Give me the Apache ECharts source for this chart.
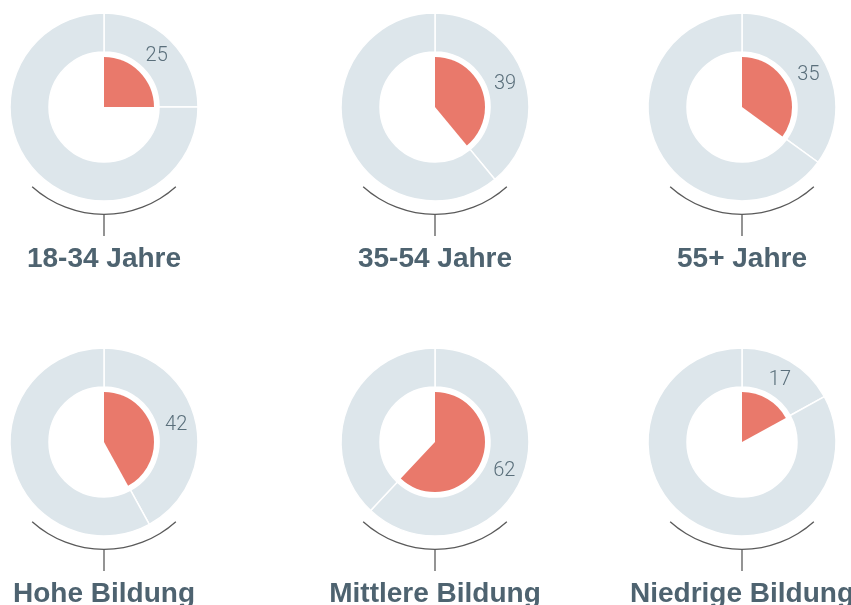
<!DOCTYPE html>
<html>
<head>
<meta charset="utf-8">
<script src="https://cdn.jsdelivr.net/npm/echarts@6/dist/echarts.min.js"></script>
<style>
  html, body { margin: 0; padding: 0; background: #ffffff; }
  #chart { width: 851px; height: 605px; }
</style>
</head>
<body>
<div id="chart"></div>
<script>
// Share of respondents per group (percent)
const groups = ['18-34 Jahre', '35-54 Jahre', '55+ Jahre', 'Hohe Bildung', 'Mittlere Bildung', 'Niedrige Bildung'];
const shares = [25, 39, 35, 42, 62, 17];

// Layout of the 3 x 2 grid of small donuts
const colX = [104, 435, 742];
const rowY = [107, 442];
const R_OUTER = 94, R_INNER = 55, R_SLICE = 50, R_ARC = 108;

const RING = '#dde6eb';
const RED = '#e9796b';
const TEXT = '#4e6370';
const LABEL = '#5a6f7b';
const ARC = '#5a5a5a';

const series = [];
const titles = [];
const graphics = [];

groups.forEach((name, i) => {
  const cx = colX[i % 3];
  const cy = rowY[Math.floor(i / 3)];
  const v = shares[i];

  // outer grey ring split at the value
  series.push({
    type: 'pie',
    center: [cx, cy],
    radius: [R_INNER, R_OUTER],
    startAngle: 90,
    clockwise: true,
    silent: true,
    animation: false,
    itemStyle: { color: RING, borderColor: '#ffffff', borderWidth: 1.5 },
    label: { show: false },
    labelLine: { show: false },
    data: [{ value: v }, { value: 100 - v }]
  });

  // transparent ring carrying the value label in the middle of the value segment
  series.push({
    type: 'pie',
    center: [cx, cy],
    radius: [R_INNER - 3, R_OUTER - 3],
    startAngle: 90,
    clockwise: true,
    silent: true,
    animation: false,
    itemStyle: { color: 'rgba(0,0,0,0)' },
    labelLine: { show: false },
    data: [
      { value: v, label: { show: true, position: 'inside', formatter: '{c}', offset: [0, 2],
          color: LABEL, fontSize: 20, fontWeight: 300, fontFamily: 'Roboto, "Liberation Sans", sans-serif' } },
      { value: 100 - v, label: { show: false } }
    ]
  });

  // inner red slice
  series.push({
    type: 'pie',
    center: [cx, cy],
    radius: [0, R_SLICE],
    startAngle: 90,
    clockwise: true,
    silent: true,
    animation: false,
    label: { show: false },
    labelLine: { show: false },
    data: [
      { value: v, itemStyle: { color: RED } },
      { value: 100 - v, itemStyle: { color: 'rgba(0,0,0,0)' } }
    ]
  });

  // bracket arc under the donut
  series.push({
    type: 'gauge',
    center: [cx, cy],
    radius: R_ARC,
    startAngle: -48,
    endAngle: -132,
    min: 0, max: 1,
    silent: true,
    animation: false,
    axisLine: { show: true, lineStyle: { width: 1.3, color: [[1, ARC]] } },
    splitLine: { show: false },
    axisTick: { show: false },
    axisLabel: { show: false },
    pointer: { show: false },
    anchor: { show: false },
    title: { show: false },
    detail: { show: false },
    data: [{ value: 0 }]
  });

  // short stem from the bracket to the caption
  graphics.push({
    type: 'line',
    silent: true,
    shape: { x1: cx, y1: cy + R_ARC, x2: cx, y2: cy + R_ARC + 21 },
    style: { stroke: ARC, lineWidth: 1.3 }
  });

  titles.push({
    text: name,
    left: cx,
    top: cy + 138,
    padding: 0,
    textAlign: 'center',
    textStyle: { color: TEXT, fontSize: 28, fontWeight: 'bold', fontFamily: '"Liberation Sans", Arial, sans-serif' }
  });
});

const chart = echarts.init(document.getElementById('chart'), null, { renderer: 'canvas' });
chart.setOption({
  backgroundColor: '#ffffff',
  animation: false,
  title: titles,
  series: series,
  graphic: graphics
});
</script>
</body>
</html>
